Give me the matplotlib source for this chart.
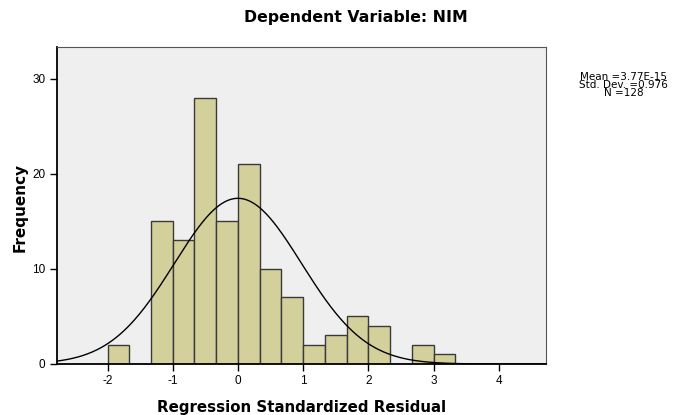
import numpy as np
import matplotlib
matplotlib.use("Agg")
import matplotlib.pyplot as plt

plt.rcParams['font.family'] = ['Liberation Sans', 'DejaVu Sans']

bin_start = -2.0
bin_width = 1.0 / 3.0
counts = [2, 0, 15, 13, 28, 15, 21, 10, 7, 2, 3, 5, 4, 0, 2, 1]
mean = 3.77e-15
sd = 0.976
n = 128
xticks = [-2, -1, 0, 1, 2, 3, 4]
xticklabels = ["-2", "-1", "0", "1", "2", "3", "4"]
yticks = [0, 10, 20, 30]

fig = plt.figure(figsize=(6.8, 4.15), dpi=100)
ax = fig.add_axes([0.0834, 0.1229, 0.7191, 0.7646])
ax.set_facecolor('#efefef')

edges = bin_start + bin_width * np.arange(len(counts) + 1)
ax.bar(edges[:-1], counts, width=bin_width, align='edge',
       color='#d4d09c', edgecolor='#3a3a3a', linewidth=1.0, zorder=2)

xs = np.linspace(-2.8, 4.75, 400)
ys = n * bin_width * np.exp(-0.5 * ((xs - mean) / sd) ** 2) / (sd * np.sqrt(2 * np.pi))
ax.plot(xs, ys, color='black', linewidth=1.0, zorder=3)

ax.set_xlim(-2.78, 4.72)
ax.set_ylim(0, 33.4)
ax.set_xticks(xticks)
ax.set_xticklabels(xticklabels)
ax.set_yticks(yticks)
ax.tick_params(axis='both', labelsize=8.5, length=5, width=1, color='black', pad=3)

for s in ['left', 'bottom']:
    ax.spines[s].set_color('black')
    ax.spines[s].set_linewidth(1.3)
for s in ['top', 'right']:
    ax.spines[s].set_color('#555555')
    ax.spines[s].set_linewidth(0.8)

bold_font = ['DejaVu Sans']
fig.text(0.443, 0.019, 'Regression Standardized Residual', fontsize=10.8,
         fontweight='bold', family=bold_font, ha='center', va='center')
fig.text(0.03, 0.50, 'Frequency', fontsize=11, fontweight='bold', family=bold_font,
         ha='center', va='center', rotation=90)
fig.text(0.524, 0.957, 'Dependent Variable: NIM', fontsize=11.3, fontweight='bold',
         family=bold_font, ha='center', va='center')
fig.text(0.917, 0.795, 'Mean =3.77E-15\nStd. Dev. =0.976\nN =128', fontsize=7.5,
         family=['DejaVu Sans'], ha='center', va='center', linespacing=0.8)

fig.savefig('out.png', dpi=100)
